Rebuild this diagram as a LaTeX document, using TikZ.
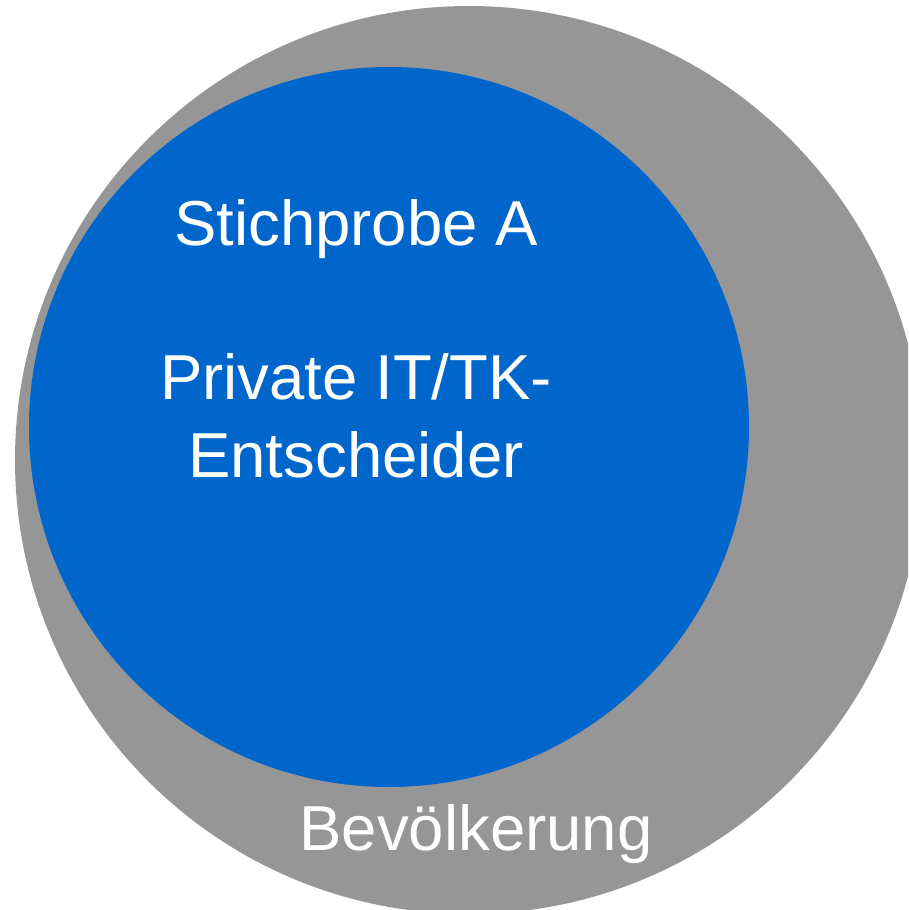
\documentclass[tikz,border=0pt]{standalone}
\usepackage{fontspec}
\setmainfont{Liberation Sans}
\definecolor{popgray}{HTML}{969696}
\definecolor{sampleblue}{HTML}{0066CC}
\begin{document}
\begin{tikzpicture}[x=1pt,y=-1pt,
  lbl/.style={text=white,font=\fontsize{63.5}{76}\selectfont,anchor=base,inner sep=0pt}]
\useasboundingbox (0,0) rectangle (908,910);
\clip (0,0) rectangle (908,910);
\fill[popgray] (469,460) circle[radius=454];
\fill[sampleblue] (389,427) circle[radius=360];
\node[lbl] (stich) at (356,245) {Stichprobe A};
\node[lbl] (priv) at (356,399) {Private IT/TK-};
\node[lbl] (ents) at (356,477) {Entscheider};
\node[lbl] (bev) at (476,850) {Bevölkerung};
\end{tikzpicture}
\end{document}
